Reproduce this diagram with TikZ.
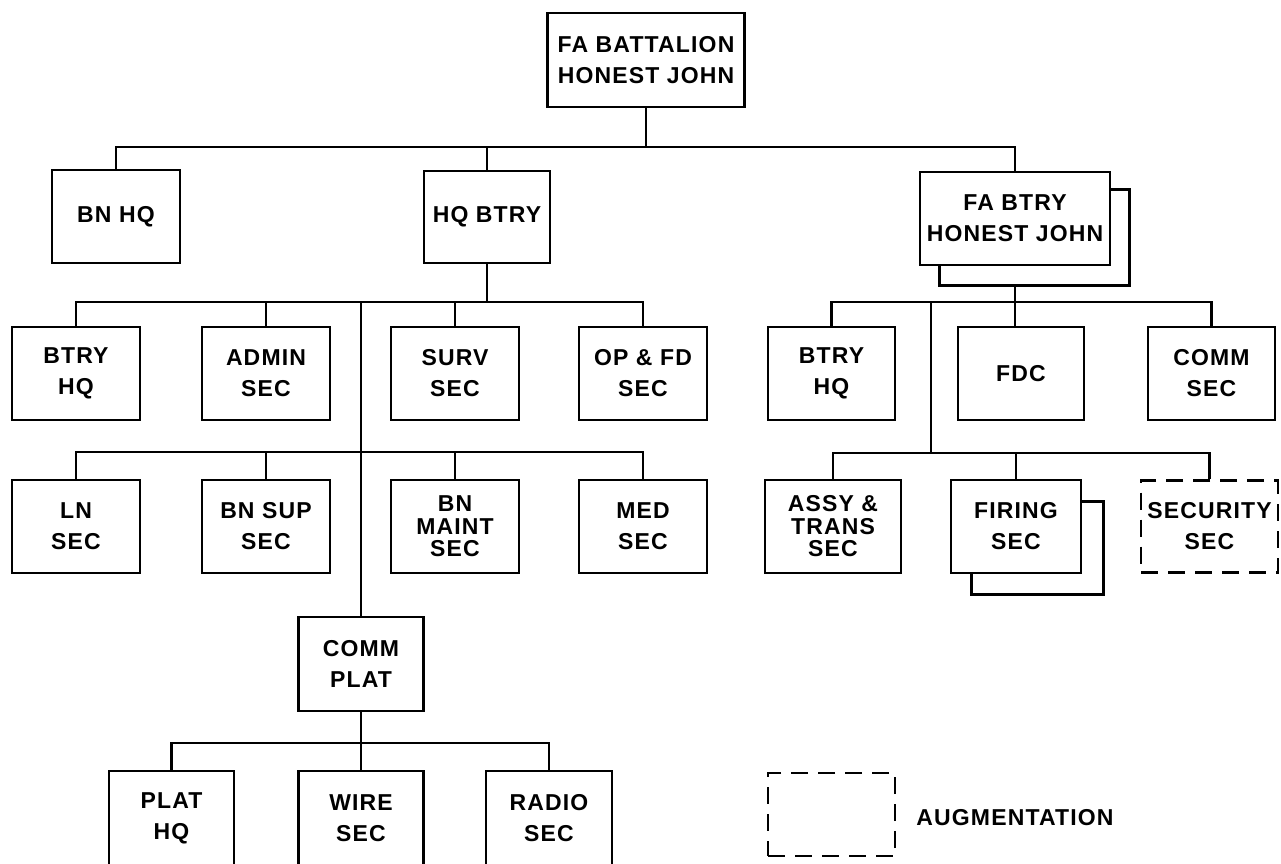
\documentclass[tikz,border=0pt]{standalone}
\usepackage{fontspec}
\setmainfont{Liberation Sans}[LetterSpace=5]
\newcommand{\chartfont}{\fontsize{23}{31}\selectfont\bfseries}
\newcommand{\charttight}{\fontsize{23}{22.5}\selectfont\bfseries}
\begin{document}
\begin{tikzpicture}[x=1pt,y=-1pt,line width=2.9pt,
  box/.style={draw,rectangle,inner sep=0pt,align=center,font=\chartfont,line width=2.9pt},
  sbox/.style={box,minimum width=128pt,minimum height=93pt},
  dbox/.style={box,dash pattern=on 17pt off 10pt},
  legend text/.style={inner sep=0pt,font=\chartfont}]
\useasboundingbox (0,0) rectangle (1281,863);
\clip (0,0) rectangle (1281,863);

% level 0
\node[box,minimum width=197pt,minimum height=94pt] (top) at (646,60) {FA BATTALION\\HONEST JOHN};

% level 1
\node[box,minimum width=128pt,minimum height=93pt] (bnhq) at (116,216.5) {BN HQ};
\node[box,minimum width=126pt,minimum height=92pt] (hqbtry) at (487,217) {HQ BTRY};
\node[box,minimum width=190pt,minimum height=93pt] (fabtry) at (1015,218.5) {FA BTRY\\HONEST JOHN};
\draw ([yshift=-19pt]fabtry.north east) -| ([xshift=18pt,yshift=-19pt]fabtry.south east) -| ([xshift=21pt]fabtry.south west);
\coordinate (fashadow) at ([yshift=-19pt]fabtry.south);

\coordinate (b1) at (646,147);
\draw (bnhq.north) |- (b1) -| (fabtry.north);
\draw (top.south) -- (b1);
\draw (hqbtry.north) -- (hqbtry.north |- b1);

% HQ BTRY level 2
\node[sbox] (btryhq) at (76,373.5) {BTRY\\HQ};
\node[sbox] (admin) at (266,373.5) {ADMIN\\SEC};
\node[sbox] (surv) at (455,373.5) {SURV\\SEC};
\node[sbox] (opfd) at (643,373.5) {OP \& FD\\SEC};
\coordinate (b2) at (487,302);
\draw (hqbtry.south) -- (b2);
\draw (btryhq.north) |- (b2) -| (opfd.north);
\draw (admin.north) -- (admin.north |- b2);
\draw (surv.north) -- (surv.north |- b2);

% HQ BTRY level 3
\node[sbox] (ln) at (76,526.5) {LN\\SEC};
\node[sbox] (bnsup) at (266,526.5) {BN SUP\\SEC};
\node[sbox,font=\charttight] (bnmaint) at (455,526.5) {BN\\MAINT\\SEC};
\node[sbox] (med) at (643,526.5) {MED\\SEC};
\coordinate (b3) at (361,452);
\draw (ln.north) |- (b3) -| (med.north);
\draw (bnsup.north) -- (bnsup.north |- b3);
\draw (bnmaint.north) -- (bnmaint.north |- b3);

% COMM PLAT
\node[box,minimum width=125pt,minimum height=94pt] (commplat) at (361,664) {COMM\\PLAT};
\coordinate (t2) at (361,302);
\draw (t2) -- (commplat.north);

% level 4
\node[box,minimum width=125pt,minimum height=94pt] (plathq) at (171.5,818) {PLAT\\HQ};
\node[box,minimum width=125pt,minimum height=94pt] (wire) at (361,818) {WIRE\\SEC};
\node[box,minimum width=126pt,minimum height=94pt] (radio) at (549,818) {RADIO\\SEC};
\coordinate (b4) at (361,743);
\draw (commplat.south) -- (wire.north);
\draw (plathq.north) |- (b4) -| (radio.north);

% FA BTRY level 2
\node[sbox,minimum width=127pt] (rbtryhq) at (831.5,373.5) {BTRY\\HQ};
\node[sbox,minimum width=126pt] (fdc) at (1021,373.5) {FDC};
\node[sbox,minimum width=127pt] (commsec) at (1211.5,373.5) {COMM\\SEC};
\coordinate (b5) at (1015,302);
\draw (fashadow) -- (fashadow |- fdc.north);
\draw (rbtryhq.north) |- (b5) -| (commsec.north);
\coordinate (t5) at (931,302);
\coordinate (b6) at (931,453);
\draw (t5) -- (b6);

% FA BTRY level 3
\node[box,minimum width=136pt,minimum height=93pt,font=\charttight] (assy) at (833,526.5) {ASSY \&\\TRANS\\SEC};
\node[box,minimum width=130pt,minimum height=93pt] (firing) at (1016,526.5) {FIRING\\SEC};
\draw ([yshift=-23pt]firing.north east) -| ([xshift=21pt,yshift=-20pt]firing.south east) -| ([xshift=22pt]firing.south west);
\node[dbox,minimum width=137pt,minimum height=92pt] (security) at (1209.5,526.5) {SECURITY\\SEC};
\draw (assy.north) |- (b6) -| (security.north);
\draw (firing.north) -- (firing.north |- b6);

% legend
\node[dbox,minimum width=127pt,minimum height=83pt] (legbox) at (831.5,814.5) {};
\node[legend text,anchor=west] (legtxt) at (915,818) {AUGMENTATION};
\end{tikzpicture}
\end{document}
